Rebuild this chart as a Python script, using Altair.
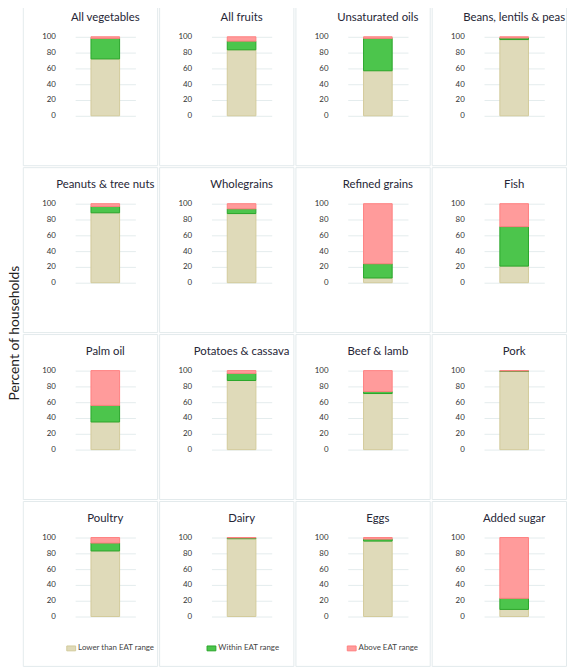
import altair as alt
import pandas as pd

foods = ["All vegetables", "All fruits", "Unsaturated oils", "Beans, lentils & peas",
         "Peanuts & tree nuts", "Wholegrains", "Refined grains", "Fish",
         "Palm oil", "Potatoes & cassava", "Beef & lamb", "Pork",
         "Poultry", "Dairy", "Eggs", "Added sugar"]
lower = [72, 83.5, 57, 96.5, 88.5, 87.5, 6, 21, 35, 87.5, 71, 99, 83, 98.5, 95.5, 9]
within = [26, 11, 41, 2, 8, 6, 18, 50, 21, 9, 2.5, 0.6, 10, 1, 2.5, 14]
above = [2, 5.5, 2, 1.5, 3.5, 6.5, 76, 29, 44, 3.5, 26.5, 0.4, 7, 0.5, 2, 77]

cats = ["Lower than EAT range", "Within EAT range", "Above EAT range"]
fills = ["#dfdab9", "#4cc54c", "#ff9b9b"]
strokes = ["#d2ca9a", "#2aa62a", "#ff8080"]

rows = []
for i, f in enumerate(foods):
    for j, (c, v) in enumerate(zip(cats, [lower[i], within[i], above[i]])):
        rows.append({"food": f, "cat": c, "value": v, "ord": j, "k": "a"})
df = pd.DataFrame(rows)

W, H = 136, 167

xenc = alt.X("k:N", axis=None,
             scale=alt.Scale(range=[53, 114], paddingInner=0, paddingOuter=0.552))

legend = alt.Legend(orient="none", legendX=44, legendY=651, direction="horizontal",
                    columns=3, gridAlign="all", columnPadding=50, title=None,
                    symbolType="M-1,-0.55H1V0.55H-1Z", symbolSize=80,
                    labelFontSize=8, labelFont="Lato", labelColor="#444",
                    labelOffset=2, padding=0, symbolStrokeWidth=1)

yaxis = alt.Axis(values=[0, 20, 40, 60, 80, 100], title=None, domain=False,
                 ticks=False, tickSize=0, offset=-37, labelPadding=4,
                 labelFontSize=8, labelFont="Lato", labelColor="#333",
                 gridColor="#e4eced", gridWidth=1)

panels = []
for f in foods:
    base = alt.Chart().transform_filter(alt.datum.food == f)
    bars = base.mark_bar(strokeWidth=1).encode(
        x=xenc,
        y=alt.Y("value:Q", stack="zero",
                scale=alt.Scale(domain=[0, 100], range=[117, 37], nice=False),
                axis=yaxis),
        fill=alt.Fill("cat:N", scale=alt.Scale(domain=cats, range=fills), legend=legend),
        stroke=alt.Stroke("cat:N", scale=alt.Scale(domain=cats, range=strokes), legend=legend),
        order=alt.Order("ord:Q"),
    )
    title = base.transform_filter(alt.datum.ord == 0).mark_text(
        fontSize=11.5, font="Lato", color="#262636", baseline="middle"
    ).encode(
        x=xenc,
        y=alt.value(18),
        text="food:N",
    )
    panels.append(alt.layer(bars, title).properties(width=W, height=H))

chart = alt.concat(*panels, columns=4, spacing=0, data=df).properties(
    padding={"top": -13, "left": 0, "right": 0, "bottom": 0},
    title=alt.TitleParams("Percent of households", orient="left", anchor="middle",
                          fontSize=14, font="Lato", fontWeight="normal", color="#222",
                          offset=0),
).configure_view(stroke="#e3eaec", strokeWidth=1)

chart.save("out.html", embed_options={"renderer": "svg", "actions": False})
